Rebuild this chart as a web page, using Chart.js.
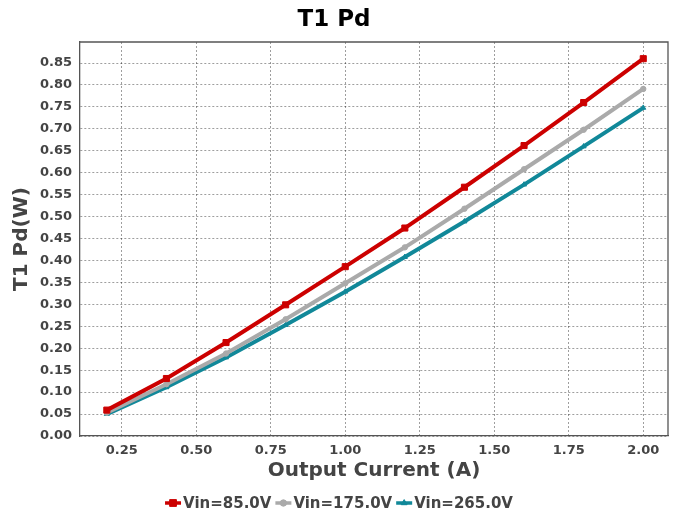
<!DOCTYPE html>
<html>
<head>
<meta charset="utf-8">
<script src="https://cdn.jsdelivr.net/npm/chart.js@4.4.1/dist/chart.umd.min.js"></script>
<style>
  html, body { margin: 0; padding: 0; background: #fff; }
  #wrap { width: 678px; height: 513px; }
</style>
</head>
<body>
<div id="wrap"><canvas id="pd_chart" width="678" height="513"></canvas></div>
<script>
// output current (A)
var currentA = [0.2, 0.4, 0.6, 0.8, 1.0, 1.2, 1.4, 1.6, 1.8, 2.0];
// T1 Pd (W) per input voltage
var pdVin85 = [0.059, 0.131, 0.213, 0.299, 0.386, 0.474, 0.567, 0.662, 0.760, 0.860];
var pdVin175 = [0.053, 0.118, 0.188, 0.266, 0.348, 0.430, 0.518, 0.608, 0.698, 0.791];
var pdVin265 = [0.050, 0.111, 0.179, 0.253, 0.329, 0.408, 0.489, 0.573, 0.660, 0.748];
var seriesLabels = ["Vin=85.0V", "Vin=175.0V", "Vin=265.0V"];

var textColor = "#444";
var fontFamily = "'DejaVu Sans', sans-serif";
var gridColor = "rgba(0,0,0,0.38)";

function toPoints(ys) {
  return currentA.map(function (x, i) { return { x: x, y: ys[i] }; });
}

function keepSteps(step) {
  return function (scale) {
    var out = [];
    var first = Math.ceil(scale.min / step - 1e-6);
    for (var k = first; k * step <= scale.max + 1e-9; k++) {
      out.push({ value: Math.round(k * step * 100) / 100 });
    }
    scale.ticks = out;
  };
}

// top/right frame of the plot area
var framePlugin = {
  id: "frame",
  afterDatasetsDraw: function (chart) {
    var a = chart.chartArea, ctx = chart.ctx;
    ctx.save();
    ctx.strokeStyle = "#555";
    ctx.lineWidth = 1.3;
    ctx.beginPath();
    ctx.moveTo(a.left, a.top);
    ctx.lineTo(a.right, a.top);
    ctx.lineTo(a.right, a.bottom);
    ctx.stroke();
    ctx.restore();
  }
};

// legend row at the bottom: line + marker + label
var legendPlugin = {
  id: "lineLegend",
  afterDraw: function (chart) {
    var ctx = chart.ctx;
    var y = 503;
    var symW = 16, gapTxt = 2, gapItem = 4;
    ctx.save();
    ctx.font = "bold 15px " + fontFamily;
    ctx.textBaseline = "middle";
    var widths = chart.data.datasets.map(function (ds) {
      return symW + gapTxt + ctx.measureText(ds.label).width;
    });
    var total = widths.reduce(function (s, w) { return s + w; }, 0) + gapItem * (widths.length - 1);
    var x = (chart.width - total) / 2;
    chart.data.datasets.forEach(function (ds, i) {
      ctx.strokeStyle = ds.borderColor;
      ctx.lineWidth = 3.5;
      ctx.beginPath();
      ctx.moveTo(x, y);
      ctx.lineTo(x + symW, y);
      ctx.stroke();
      ctx.fillStyle = ds.pointBackgroundColor;
      ctx.strokeStyle = ds.pointBorderColor;
      ctx.lineWidth = 1;
      Chart.helpers.drawPoint(ctx, {
        pointStyle: ds.pointStyle,
        radius: ds.pointRadius + 0.5,
        rotation: 0,
        borderWidth: 1
      }, x + symW / 2, y);
      ctx.fillStyle = textColor;
      ctx.fillText(ds.label, x + symW + gapTxt, y + 1);
      x += widths[i] + gapItem;
    });
    ctx.restore();
  }
};

function makeDataset(label, ys, color, style, radius) {
  return {
    label: label,
    data: toPoints(ys),
    borderColor: color,
    backgroundColor: color,
    pointBackgroundColor: color,
    pointBorderColor: color,
    pointBorderWidth: 1,
    pointStyle: style,
    pointRadius: radius,
    borderWidth: 4,
    tension: 0
  };
}

var ctx = document.getElementById("pd_chart");
new Chart(ctx, {
  type: "line",
  data: {
    datasets: [
      makeDataset(seriesLabels[0], pdVin85, "rgb(204, 0, 0)", "rect", 4.3),
      makeDataset(seriesLabels[1], pdVin175, "rgb(170, 170, 170)", "circle", 2.7),
      makeDataset(seriesLabels[2], pdVin265, "rgb(17, 136, 153)", "triangle", 2.9)
    ]
  },
  options: {
    responsive: false,
    animation: false,
    devicePixelRatio: 1,
    layout: { padding: { left: 0, right: 10, top: 0, bottom: 30 } },
    plugins: {
      legend: { display: false },
      tooltip: { enabled: false },
      title: {
        display: true,
        text: "T1 Pd",
        color: "#000",
        font: { family: fontFamily, size: 23, weight: "bold" },
        padding: { top: 6, bottom: 8.4 }
      }
    },
    scales: {
      x: {
        type: "linear",
        min: 0.11,
        max: 2.083,
        afterBuildTicks: keepSteps(0.25),
        afterFit: function (scale) { scale.height = 47; },
        grid: { color: gridColor, lineWidth: 1, drawTicks: false },
        border: { color: "#555", width: 1.3, dash: [2, 2] },
        ticks: {
          padding: 7,
          color: textColor,
          font: { family: fontFamily, size: 13, weight: "bold" },
          maxRotation: 0,
          callback: function (v) { return v.toFixed(2); }
        },
        title: {
          display: true,
          text: "Output Current (A)",
          color: textColor,
          font: { family: fontFamily, size: 20, weight: "bold" },
          padding: { top: 0, bottom: 0 }
        }
      },
      y: {
        type: "linear",
        min: 0,
        max: 0.898,
        afterBuildTicks: keepSteps(0.05),
        afterFit: function (scale) { scale.width = 80; },
        grid: { color: gridColor, lineWidth: 1, drawTicks: false },
        border: { color: "#555", width: 1.3, dash: [2, 2] },
        ticks: {
          padding: 8,
          color: textColor,
          font: { family: fontFamily, size: 13, weight: "bold" },
          callback: function (v) { return v.toFixed(2); }
        },
        title: {
          display: true,
          text: "T1 Pd(W)",
          color: textColor,
          font: { family: fontFamily, size: 20, weight: "bold" },
          padding: { top: 10, bottom: 0 }
        }
      }
    }
  },
  plugins: [framePlugin, legendPlugin]
});
</script>
</body>
</html>
